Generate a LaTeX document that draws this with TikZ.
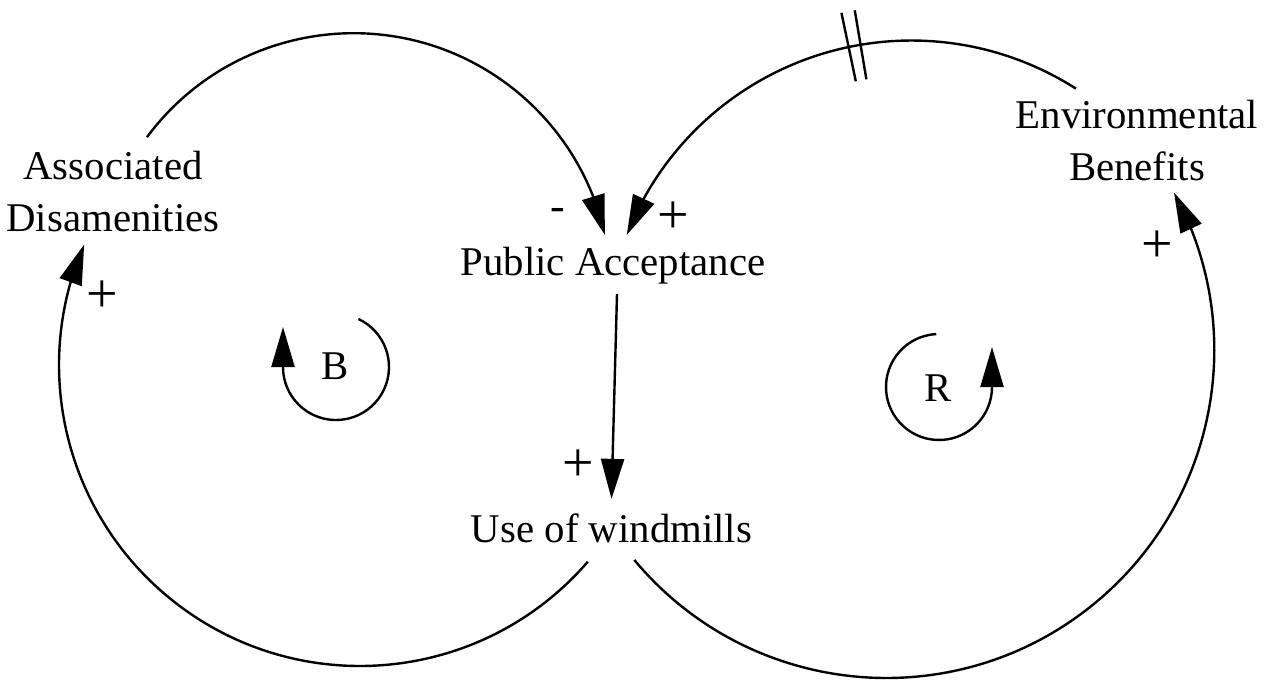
\documentclass[tikz,border=0pt]{standalone}
\usepackage{fontspec}
\setmainfont{Liberation Serif}
\usetikzlibrary{arrows.meta,bending,calc}
\begin{document}
\begin{tikzpicture}[x=0.5pt,y=-0.5pt,
  every node/.style={inner sep=0pt,font=\fontsize{20.4}{26}\selectfont},
  var/.style={align=center},
  pol/.style={font=\fontsize{28}{30}\selectfont},
  neg/.style={font=\fontsize{22}{26}\selectfont},
  link/.style={line width=1.2pt,-{Triangle[length=20pt,width=11.5pt]}},
  plainline/.style={line width=1.2pt}]
\useasboundingbox[fill=white] (0,0) rectangle (1270,681);

% variables
\node[var,anchor=base] (pa) at (613,275) {Public Acceptance};
\node[var,anchor=base] (use) at (611.5,542) {Use of windmills};
\node[var] (ad) at (113,191.5) {Associated\\Disamenities};
\node[var] (eb) at (1137,141) {Environmental\\Benefits};

% polarities
\node[pol] (p1) at (102,297) {+};
\node[neg] (p2) at (558,214) {-};
\node[pol] (p3) at (673,218) {+};
\node[pol] (p4) at (578,466) {+};
\node[pol] (p5) at (1157,247) {+};

% loop labels
\node[anchor=base] (lb) at (335.5,379) {B};
\node[anchor=base] (lr) at (938.5,401) {R};

% arc centres
\coordinate (cA) at (353.6,290.6);
\coordinate (cB) at (360,365);
\coordinate (cC) at (911.35,346);
\coordinate (cD) at (886.3,350);
\coordinate (cLB) at (336,367);
\coordinate (cLR) at (939,387);

% arc start points near the source variables
\coordinate (adOut) at ($(cA)+(216.6:257.4)$);
\coordinate (useOutL) at ($(cB)+(40.8:301)$);
\coordinate (ebOut) at ($(cC)+(-57.4:305.5)$);
\coordinate (useOutR) at ($(cD)+(140.2:328)$);

% Associated Disamenities -> Public Acceptance
\draw[link] (adOut) arc[start angle=216.6,end angle=347.5,radius=257.4];
% Use of windmills -> Associated Disamenities
\draw[link] (useOutL) arc[start angle=40.8,end angle=203.6,radius=301];
% Environmental Benefits -> Public Acceptance (with delay)
\draw[link] (ebOut) arc[start angle=-57.4,end angle=-158.7,radius=305.5];
\draw[plainline] ($(cC)+(-101.85:270.5)$) -- ($(cC)+(-101.85:340.5)$);
\draw[plainline] ($(cC)+(-99.57:270.5)$) -- ($(cC)+(-99.57:340.5)$);
% Use of windmills -> Environmental Benefits
\draw[link] (useOutR) arc[start angle=140.2,end angle=-28.7,radius=328];
% Public Acceptance -> Use of windmills
\draw[link] ($(pa.south)+(4,10)$) -- ($(use.north)+(0,-14)$);

% loop markers
\draw[link] ($(cLB)+(-65:53)$) arc[start angle=-65,end angle=180,radius=53] -- ++(0,-40);
\draw[link] ($(cLR)+(-93:53)$) arc[start angle=-93,end angle=-360,radius=53] -- ++(0,-40);
\end{tikzpicture}
\end{document}
